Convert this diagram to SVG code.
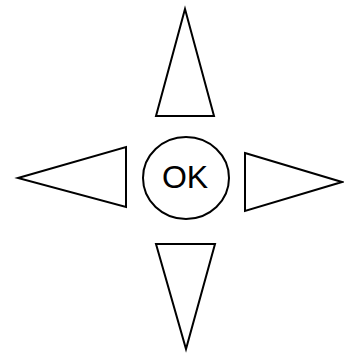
<svg xmlns="http://www.w3.org/2000/svg" width="344" height="354" viewBox="0 0 344 354">
<style>
.s{fill:#fff;stroke:#000;stroke-width:2;stroke-linejoin:miter}
.t{font-family:"Liberation Sans",Arial,sans-serif;font-size:32px;fill:#000}
</style>
<rect width="344" height="354" fill="#fff"/>
<g id="up"><polygon class="s" points="185,9 156,116 214,116"/></g>
<g id="left"><polygon class="s" points="18,178 126,147 126,207"/></g>
<g id="right"><polygon class="s" points="245,153 342,182 245,211"/></g>
<g id="down"><polygon class="s" points="156,244 215,244 186,349"/></g>
<g id="ok"><ellipse class="s" cx="186" cy="178" rx="43" ry="41"/>
<text class="t" x="185" y="188" text-anchor="middle">OK</text></g>
<g id="connectors"></g>
</svg>
